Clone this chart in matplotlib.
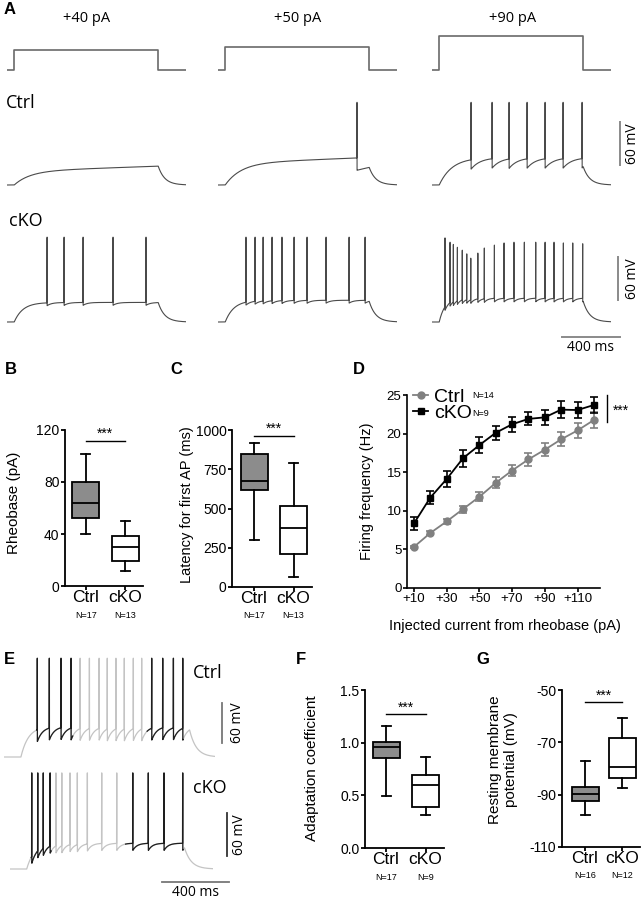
import numpy as np
import matplotlib
matplotlib.use("Agg")
import matplotlib.pyplot as plt

plt.rcParams["font.family"] = ["Liberation Sans", "DejaVu Sans"]
LABEL_FONT = ["Open Sans", "DejaVu Sans"]

W, H = 644, 900
REST = -70.0

# ---------------- data ----------------
groups = ["Ctrl", "cKO"]

# panel A: current steps (pA) and spike times (ms)
step_amps = [40, 50, 90]
step_titles = ["+40 pA", "+50 pA", "+90 pA"]
ctrl_a_spikes = [[], [965], [271, 417, 535, 660, 785, 910, 1042]]
cko_a_spikes = [[278, 396, 528, 736, 965],
                [194, 257, 313, 375, 444, 528, 618, 750, 910, 1021],
                [90, 125, 148, 176, 210, 241, 269, 318, 363, 433, 500, 569,
                 641, 720, 785, 847, 912, 977, 1046]]
cko_90_peaks = [116, 110, 107, 103, 99, 94, 88, 95, 102, 106, 109, 110,
                110, 110, 110, 110, 109, 109, 108]

# panel B-G box plots: whisker low, q1, median, q3, whisker high
rheobase_ctrl = [40, 52.3, 63.8, 80, 101.8]
rheobase_cko = [11.3, 19.5, 30, 38.5, 49.7]
latency_ctrl = [302, 617, 677, 847, 919]
latency_cko = [64, 210, 374, 513, 787]
adapt_ctrl = [0.497, 0.85, 0.96, 1.01, 1.158]
adapt_cko = [0.317, 0.39, 0.60, 0.694, 0.865]
rmp_ctrl = [-97.6, -92.6, -89.6, -87.0, -77.2]
rmp_cko = [-87.3, -83.5, -79.4, -68.5, -60.6]

# panel D: f-I curve
current_steps = [10, 20, 30, 40, 50, 60, 70, 80, 90, 100, 110, 120]
freq_ctrl = [5.3, 7.1, 8.6, 10.2, 11.8, 13.6, 15.2, 16.65, 17.9, 19.25, 20.4, 21.75]
sem_ctrl = [0.15, 0.25, 0.35, 0.45, 0.6, 0.7, 0.75, 0.8, 0.85, 0.9, 1.0, 1.05]
freq_cko = [8.35, 11.7, 14.1, 16.8, 18.5, 20.1, 21.2, 21.9, 22.1, 23.1, 23.05, 23.7]
sem_cko = [0.8, 0.9, 1.0, 1.1, 1.0, 0.9, 1.0, 0.85, 1.0, 1.1, 1.0, 1.1]

# panel E: spike times (ms) and which spikes are highlighted
ctrl_e_spikes = [198, 270, 340, 400, 454, 510, 568, 617, 669, 719, 773, 823,
                 883, 949, 1013, 1069]
cko_e_spikes = [130, 166, 199, 240, 275, 310, 359, 403, 463, 549, 639, 735,
                828, 922, 1034]
ctrl_e_dark = [(0, 3), (12, 15)]
cko_e_dark = [(0, 3), (11, 14)]

fig = plt.figure(figsize=(W / 100, H / 100), dpi=100)


def px_axes(left, top, right, bottom):
    return fig.add_axes([left / W, 1 - bottom / H, (right - left) / W, (bottom - top) / H])


def px_text(x, y, s, **kw):
    fig.text(x / W, 1 - y / H, s, **kw)


def membrane(t, on, off, plat, spikes, peak, ahp, tau_on, tau_ahp,
             creep=0.0, tau_off=45.0):
    ramp = plat * (1 - np.exp(-np.clip(t - on, 0, None) / tau_on))
    ramp = ramp + creep * np.clip(t - on, 0, None) / (off - on)
    v = np.where(t >= on, REST + ramp, REST)
    for ts in spikes:
        v = v - np.where(t > ts, ahp * np.exp(-(t - ts) / tau_ahp), 0)
    v_off = np.interp(off, t, v)
    v = np.where(t >= off, REST + (v_off - REST) * np.exp(-(t - off) / tau_off), v)
    peaks = np.broadcast_to(np.asarray(peak, dtype=float), (len(spikes),))
    for ts, pk in zip(spikes, peaks):
        v[np.abs(t - ts) <= 0.6] = REST + pk
    return v


def trace_axes(x0, base, t_max, px_ms, px_unit, up, down, zero=REST):
    ax = px_axes(x0, base - up, x0 + t_max * px_ms, base + down)
    ax.set_xlim(0, t_max)
    ax.set_ylim(zero - down / px_unit, zero + up / px_unit)
    ax.axis("off")
    return ax


def panel_letter(x, y, s):
    px_text(x, y, s, fontsize=12, fontweight="bold", va="center", ha="left")


# ---------------- panel A ----------------
col_x0 = [7, 218, 432]
PX_MS_A = 0.144
PX_MV_A = 0.725
T_A = 1240
ON_A, OFF_A = 50, 1050
t_a = np.arange(0, T_A, 0.25)
trace_col = "#4a4a4a"

panel_letter(4, 10, "A")
title_x = [87, 298, 513]
for k in range(3):
    px_text(title_x[k], 18, step_titles[k], fontsize=10.5, ha="center", va="center",
            family=LABEL_FONT)
    ax = trace_axes(col_x0[k], 69.5, T_A, PX_MS_A, 0.28, 45, 5, zero=0)
    lvl = step_amps[k] + 30
    ax.plot([0, ON_A, ON_A, OFF_A, OFF_A, T_A], [0, 0, lvl, lvl, 0, 0],
            color="#6a6a6a", lw=1.2)

ctrl_par = [dict(plat=19, tau_on=110, creep=7, ahp=0, tau_ahp=50),
            dict(plat=30, tau_on=110, creep=8, ahp=17, tau_ahp=400),
            dict(plat=38, tau_on=90, creep=0, ahp=13, tau_ahp=60)]
cko_par = [dict(plat=27, tau_on=60, creep=0, ahp=4, tau_ahp=30),
           dict(plat=30, tau_on=60, creep=0, ahp=4, tau_ahp=30),
           dict(plat=33, tau_on=40, creep=0, ahp=5, tau_ahp=25)]
cko_peaks = [117, 117, cko_90_peaks]

for k in range(3):
    ax = trace_axes(col_x0[k], 185, T_A, PX_MS_A, PX_MV_A, 95, 8)
    v = membrane(t_a, ON_A, OFF_A, spikes=ctrl_a_spikes[k], peak=114, **ctrl_par[k])
    ax.plot(t_a, v, color=trace_col, lw=0.8)
    if k == 2:
        t_bar = (620 - col_x0[2]) / PX_MS_A
        v0 = REST + (185 - 165) / PX_MV_A
        ax.plot([t_bar, t_bar], [v0, v0 + 60], color="#8a8a8a", lw=1.4, clip_on=False)
        ax.text((632 - col_x0[2]) / PX_MS_A, v0 + 30, "60 mV", rotation=90,
                ha="center", va="center", fontsize=10, family=LABEL_FONT)

    ax = trace_axes(col_x0[k], 322, T_A, PX_MS_A, PX_MV_A, 95, 30)
    v = membrane(t_a, ON_A, OFF_A, spikes=cko_a_spikes[k], peak=cko_peaks[k], **cko_par[k])
    ax.plot(t_a, v, color=trace_col, lw=0.8)
    if k == 2:
        t_bar = (618 - col_x0[2]) / PX_MS_A
        v0 = REST + (322 - 300) / PX_MV_A
        ax.plot([t_bar, t_bar], [v0, v0 + 60], color="#8a8a8a", lw=1.4, clip_on=False)
        ax.text((632 - col_x0[2]) / PX_MS_A, v0 + 30, "60 mV", rotation=90,
                ha="center", va="center", fontsize=10, family=LABEL_FONT)
        t0 = (562 - col_x0[2]) / PX_MS_A
        vb = REST - (337 - 322) / PX_MV_A
        ax.plot([t0, t0 + 400], [vb, vb], color="#8a8a8a", lw=1.4, clip_on=False)
        ax.text(t0 + 200, REST - (347 - 322) / PX_MV_A, "400 ms", ha="center",
                va="center", fontsize=10, family=LABEL_FONT)

px_text(6, 103, "Ctrl", fontsize=13, va="center", family=LABEL_FONT)
px_text(9, 221, "cKO", fontsize=13, va="center", family=LABEL_FONT)


# ---------------- box panels ----------------
def box_panel(rect, xpx, ctrl, cko, ylim, yticks, yfmt, sig_y, n_labels):
    left, top, right, bottom = rect
    c0, c1 = xpx
    sp = c1 - c0
    ax = px_axes(left, top, right, bottom)
    stats = [dict(whislo=s[0], q1=s[1], med=s[2], q3=s[3], whishi=s[4])
             for s in (ctrl, cko)]
    lw = 1.3
    bp = ax.bxp(stats, positions=[0, 1], widths=27 / sp, capwidths=9 / sp,
                patch_artist=True, showfliers=False,
                boxprops=dict(linewidth=lw, edgecolor="black"),
                medianprops=dict(color="black", linewidth=lw),
                whiskerprops=dict(color="black", linewidth=lw),
                capprops=dict(color="black", linewidth=lw))
    bp["boxes"][0].set_facecolor("#8c8c8c")
    bp["boxes"][1].set_facecolor("white")
    ax.set_xlim((left - c0) / sp, (right - c0) / sp)
    ax.set_ylim(ylim)
    ax.set_yticks(yticks, [yfmt.format(y) for y in yticks], fontsize=10)
    ax.set_xticks([0, 1], groups, fontsize=12.5)
    ax.tick_params(axis="y", direction="out", length=3, width=1.3, pad=1)
    ax.tick_params(axis="x", direction="out", length=3, width=1.3, pad=0)
    for side in ("top", "right"):
        ax.spines[side].set_visible(False)
    for side in ("left", "bottom"):
        ax.spines[side].set_linewidth(1.3)
    ax.plot([0, 1], [sig_y, sig_y], color="black", lw=1.0, clip_on=False)
    ax.annotate("***", xy=(0.5, sig_y), xytext=(0, 0), textcoords="offset points",
                ha="center", va="bottom", fontsize=10)
    for i, n in enumerate(n_labels):
        ax.annotate(n, xy=(i, 0), xycoords=("data", "axes fraction"),
                    xytext=(0, -29 * 0.72), textcoords="offset points",
                    ha="center", va="center", fontsize=6.5)
    return ax


panel_letter(5, 370, "B")
box_panel((65, 430, 143, 586), (85.7, 125), rheobase_ctrl, rheobase_cko,
          (0, 120), [0, 40, 80, 120], "{:g}", 111.5, ["N=17", "N=13"])
px_text(14, 503, "Rheobase (pA)", rotation=90, fontsize=11, ha="center", va="center")

panel_letter(170, 370, "C")
box_panel((232, 430, 312, 587), (254, 293.5), latency_ctrl, latency_cko,
          (0, 1000), [0, 250, 500, 750, 1000], "{:g}", 964, ["N=17", "N=13"])
px_text(187, 505, "Latency for first AP (ms)", rotation=90, fontsize=10.5,
        ha="center", va="center")

panel_letter(476, 660, "G")
box_panel((562, 690, 640, 847), (585, 622), rmp_ctrl, rmp_cko,
          (-110, -50), [-110, -90, -70, -50], "{:g}", -54.7, ["N=16", "N=12"])
px_text(503, 760, "Resting membrane\npotential (mV)", rotation=90, fontsize=11,
        ha="center", va="center", linespacing=1.1)

panel_letter(296, 660, "F")
box_panel((365, 690, 444, 848), (386, 425.5), adapt_ctrl, adapt_cko,
          (0, 1.5), [0.0, 0.5, 1.0, 1.5], "{:.1f}", 1.269, ["N=17", "N=9"])
px_text(312, 768, "Adaptation coefficient", rotation=90, fontsize=11,
        ha="center", va="center")

# ---------------- panel D ----------------
panel_letter(353, 370, "D")
axd = px_axes(407, 395, 600, 587.7)
axd.set_xlim(10 - 7 / 1.635, 10 + 186 / 1.635)
axd.set_ylim(0, 25)
axd.errorbar(current_steps, freq_ctrl, yerr=sem_ctrl, fmt="none", ecolor="#808080",
             elinewidth=1.2, capsize=3, capthick=1.2)
axd.errorbar(current_steps, freq_cko, yerr=sem_cko, fmt="none", ecolor="black",
             elinewidth=1.2, capsize=3, capthick=1.2)
h1, = axd.plot(current_steps, freq_ctrl, color="#808080", marker="o", ms=5, lw=1.3,
               label="Ctrl")
h2, = axd.plot(current_steps, freq_cko, color="black", marker="s", ms=5, lw=1.3,
               label="cKO")
axd.set_xticks([10, 30, 50, 70, 90, 110], ["+10", "+30", "+50", "+70", "+90", "+110"],
               fontsize=9.5)
axd.set_yticks([0, 5, 10, 15, 20, 25])
axd.tick_params(axis="y", labelsize=9.5, length=3, width=1.2, pad=1)
axd.tick_params(axis="x", length=3, width=1.2, pad=1)
for side in ("top", "right"):
    axd.spines[side].set_visible(False)
for side in ("left", "bottom"):
    axd.spines[side].set_linewidth(1.2)
axd.legend(handles=[h1, h2], loc="upper left", bbox_to_anchor=(0.03, 1.035),
           frameon=False, fontsize=14, handlelength=0.8, handletextpad=0.3,
           labelspacing=-0.1, borderpad=0, borderaxespad=0)
axd.text(45.9, 25.0, "N=14", fontsize=6.5, va="center")
axd.text(45.9, 22.6, "N=9", fontsize=6.5, va="center")
axd.plot([128, 128], [21.5, 25], color="black", lw=1.0, clip_on=False)
axd.text(131.5, 22.9, "***", fontsize=10, va="center")
px_text(367, 491, "Firing frequency (Hz)", rotation=90, fontsize=10.5,
        ha="center", va="center")
px_text(505, 626, "Injected current from rheobase (pA)", fontsize=10.5,
        ha="center", va="center")

# ---------------- panel E ----------------
panel_letter(4, 660, "E")
PX_MS_E = 0.167
light = "#c4c4c4"
dark = "#1e1e1e"


def e_trace(x0, base, t_max, px_mv, on, off, spikes, dark_groups, peak, plat, ahp,
            tau_ahp, up, down):
    ax = trace_axes(x0, base, t_max, PX_MS_E, px_mv, up, down)
    t = np.arange(0, t_max, 0.25)
    v = membrane(t, on, off, plat, spikes, peak, ahp, 45, tau_ahp, tau_off=40)
    ax.plot(t, v, color=light, lw=0.9)
    for i0, i1 in dark_groups:
        lead = 3 if i0 == 0 else 0.45 * (spikes[i0] - spikes[i0 - 1])
        tail = 0.2 * (spikes[i1 + 1] - spikes[i1]) if i1 + 1 < len(spikes) else 2
        m = (t >= spikes[i0] - lead) & (t <= spikes[i1] + tail)
        ax.plot(t[m], v[m], color=dark, lw=0.9)
    return ax


ax = e_trace(4.2, 757, 1265, 0.667, 100, 1110, ctrl_e_spikes, ctrl_e_dark,
             148, 46, 18, 30, 105, 6)
v0 = REST + (757 - 743) / 0.667
tb = (222 - 4.2) / PX_MS_E
ax.plot([tb, tb], [v0, v0 + 60], color="#777777", lw=1.3, clip_on=False)
ax.text((237 - 4.2) / PX_MS_E, v0 + 30, "60 mV", rotation=90, ha="center",
        va="center", fontsize=10, family=LABEL_FONT)

ax = e_trace(10, 869, 1215, 0.717, 100, 1045, cko_e_spikes, cko_e_dark,
             134, 36, 10, 25, 100, 30)
v0 = REST + (869 - 856) / 0.717
tb = (227 - 10) / PX_MS_E
ax.plot([tb, tb], [v0, v0 + 60], color="#333333", lw=1.3, clip_on=False)
ax.text((240 - 10) / PX_MS_E, v0 + 30, "60 mV", rotation=90, ha="center",
        va="center", fontsize=10, family=LABEL_FONT)
t0 = (162 - 10) / PX_MS_E
vb = REST - (882 - 869) / 0.717
ax.plot([t0, t0 + 400], [vb, vb], color="#777777", lw=1.3, clip_on=False)
ax.text(t0 + 200, REST - (893 - 869) / 0.717, "400 ms", ha="center", va="center",
        fontsize=10, family=LABEL_FONT)

px_text(193, 673, "Ctrl", fontsize=13, va="center", family=LABEL_FONT)
px_text(193, 788, "cKO", fontsize=13, va="center", family=LABEL_FONT)

fig.savefig("out.png", dpi=100, facecolor="white")
